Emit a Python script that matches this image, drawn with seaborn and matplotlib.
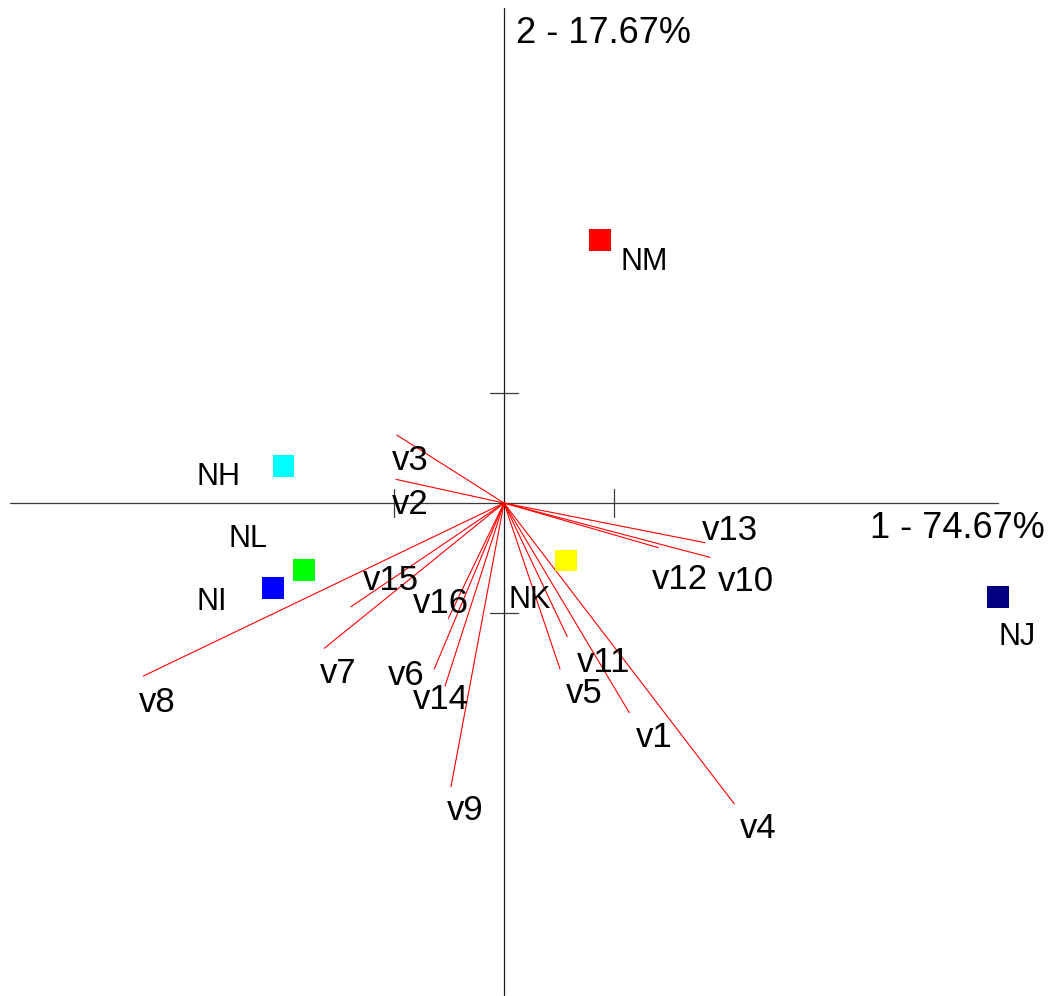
import numpy as np
import pandas as pd
import matplotlib
matplotlib.use("Agg")
import matplotlib.pyplot as plt
import seaborn as sns

# ---- data (factor-map coordinates, 1 unit = tick spacing) ----
row_names = ["NM", "NH", "NL", "NI", "NK", "NJ"]
row_x = [0.873, -2.006, -1.818, -2.100, 0.564, 4.491]
row_y = [2.391, 0.336, -0.609, -0.773, -0.525, -0.855]
row_colors = ["#FF0000", "#00FFFF", "#00FF00", "#0000FF", "#FFFF00", "#000080"]

var_names = ["v1", "v2", "v3", "v4", "v5", "v6", "v7", "v8",
             "v9", "v10", "v11", "v12", "v13", "v14", "v15", "v16"]
var_x = [1.139, -0.982, -0.975, 2.094, 0.509, -0.634, -1.634, -3.279,
         -0.482, 1.873, 0.575, 1.403, 1.827, -0.536, -1.391, -0.506]
var_y = [-1.906, 0.215, 0.618, -2.736, -1.509, -1.509, -1.321, -1.573,
         -2.579, -0.494, -1.215, -0.406, -0.361, -1.664, -0.943, -1.048]

axis1_label = "1 - 74.67%"
axis2_label = "2 - 17.67%"
tick_values = [-1, 1]

# label anchor positions (left/baseline) in data units
var_label_x = [1.200, -1.018, -1.018, 2.145, 0.564, -1.055, -1.673, -3.318,
               -0.518, 1.945, 0.664, 1.345, 1.800, -0.827, -1.282, -0.827]
var_label_y = [-2.218, -0.100, 0.300, -3.045, -1.818, -1.655, -1.636, -1.900,
               -2.882, -0.800, -1.536, -0.782, -0.336, -1.873, -0.791, -1.000]
row_label_x = [1.055, -2.791, -2.509, -2.791, 0.045, 4.491]
row_label_y = [2.118, 0.164, -0.400, -0.973, -0.955, -1.291]

# ---- figure ----
sns.set_theme(style="white")
plt.rcParams["font.family"] = ["Liberation Sans", "DejaVu Sans"]
plt.rcParams["text.color"] = "black"

fig = plt.figure(figsize=(10.60, 9.96), dpi=100)
ax = fig.add_axes([0, 0, 1, 1])
ax.set_xlim(-504 / 110, 556 / 110)
ax.set_ylim(-493 / 110, 503 / 110)
ax.set_axis_off()

# axes
ext = 4.49
ax.plot([-ext, ext], [0, 0], color="#3a3a3a", lw=0.9, zorder=1)
ax.plot([0, 0], [-4.47, 4.50], color="#1a1a1a", lw=0.9, zorder=1)
tl = 0.125
for t in tick_values:
    ax.plot([t, t], [-tl, tl], color="#3a3a3a", lw=0.9, zorder=1)
    ax.plot([-tl, tl], [t, t], color="#3a3a3a", lw=0.9, zorder=1)

# variable arrows (segments from origin)
seg = pd.DataFrame({
    "var": np.repeat(var_names, 2),
    "x": np.ravel([[0.0, vx] for vx in var_x]),
    "y": np.ravel([[0.0, vy] for vy in var_y]),
})
sns.lineplot(data=seg, x="x", y="y", units="var", estimator=None, sort=False,
             color="#FF0000", lw=0.8, ax=ax, zorder=2)

for name, lx, ly in zip(var_names, var_label_x, var_label_y):
    ax.text(lx, ly, name, fontsize=25, ha="left", va="baseline",
            color="black", zorder=4)

# row points
pts = pd.DataFrame({"name": row_names, "x": row_x, "y": row_y})
sns.scatterplot(data=pts, x="x", y="y", hue="name",
                palette=dict(zip(row_names, row_colors)),
                marker="s", s=235, linewidth=0, legend=False, ax=ax, zorder=3)

for name, lx, ly in zip(row_names, row_label_x, row_label_y):
    ax.text(lx, ly, name, fontsize=22, ha="left", va="baseline",
            color="black", zorder=4)

# axis titles
ax.text(0.109, 4.182, axis2_label, fontsize=26, ha="left", va="baseline",
        color="black")
ax.text(4.918, -0.318, axis1_label, fontsize=26, ha="right", va="baseline",
        color="black")

ax.set_xlabel("")
ax.set_ylabel("")
ax.set_xlim(-504 / 110, 556 / 110)
ax.set_ylim(-493 / 110, 503 / 110)

fig.savefig("out.png", dpi=100, facecolor="white")
